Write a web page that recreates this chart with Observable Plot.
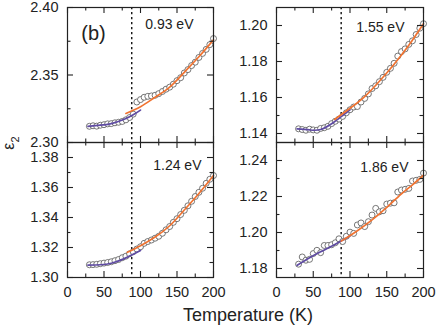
<!DOCTYPE html>
<html><head><meta charset="utf-8">
<script src="https://cdn.jsdelivr.net/npm/d3@7"></script>
<script src="https://cdn.jsdelivr.net/npm/@observablehq/plot@0.6"></script>
<style>
body{margin:0;background:#fff;}
#chart{position:relative;width:436px;height:328px;font-family:"Liberation Sans",Arial,Helvetica,sans-serif;color:#222;}
.panel{position:absolute;}
.panel svg{overflow:visible;}
.lbl{position:absolute;white-space:nowrap;line-height:1;}
</style></head><body><div id="chart"></div>
<script>
// ---------- data ----------
const temps = [30,35,40,45,50,55,60,65,70,75,80,85,90,95,100,105,110,115,120,125,130,135,140,145,150,155,160,165,170,175,180,185,190,195,200];
const eps093 = [2.3120,2.3124,2.3121,2.3128,2.3132,2.3138,2.3140,2.3146,2.3150,2.3156,2.3168,2.3185,2.3210,2.3300,2.3318,2.3335,2.3342,2.3345,2.3350,2.3362,2.3378,2.3395,2.3410,2.3432,2.3458,2.3480,2.3515,2.3540,2.3570,2.3595,2.3630,2.3660,2.3690,2.3725,2.3770];
const eps155 = [1.1426,1.1422,1.1418,1.1424,1.1420,1.1418,1.1428,1.1432,1.1440,1.1455,1.1468,1.1480,1.1495,1.1515,1.1532,1.1547,1.1550,1.1575,1.1595,1.1620,1.1650,1.1665,1.1688,1.1712,1.1740,1.1762,1.1790,1.1830,1.1855,1.1870,1.1895,1.1915,1.1950,1.1985,1.2010];
const eps124 = [1.3085,1.3086,1.3088,1.3092,1.3096,1.3100,1.3105,1.3112,1.3120,1.3132,1.3142,1.3158,1.3172,1.3190,1.3205,1.3228,1.3240,1.3250,1.3262,1.3275,1.3295,1.3318,1.3340,1.3368,1.3392,1.3420,1.3448,1.3478,1.3508,1.3540,1.3568,1.3595,1.3628,1.3655,1.3680];
const eps186 = [1.1824,1.1864,1.1846,1.1851,1.1883,1.1901,1.1888,1.1928,1.1928,1.1932,1.1943,1.1965,1.1950,1.1979,1.2002,1.1995,1.2042,1.2053,1.2033,1.2060,1.2097,1.2134,1.2115,1.2121,1.2158,1.2163,1.2165,1.2225,1.2236,1.2240,1.2245,1.2286,1.2290,1.2295,1.2330];

// fit curves
const fitLowT = [28,45,60,77,90,100];
const fitLow093 = [2.3120,2.3128,2.3140,2.3170,2.3205,2.3240];
const fitLow155 = [1.1426,1.1420,1.1422,1.1460,1.1500,1.1532];
const fitLow124 = [1.3083,1.3085,1.3095,1.3124,1.3155,1.3180];
const fitLow186 = [1.1818,1.1860,1.1893,1.1928,1.1957,1.1980];
const fitHighT093 = [80,100,120,140,160,180,200];
const fitHigh093 = [2.3215,2.3265,2.3335,2.3410,2.3520,2.3635,2.3760];
const fitHighT155 = [79,100,120,140,160,180,200];
const fitHigh155 = [1.1478,1.1540,1.1605,1.1690,1.1785,1.1890,1.2010];
const fitHighT124 = [82,100,120,140,160,180,200];
const fitHigh124 = [1.3168,1.3212,1.3270,1.3345,1.3450,1.3560,1.3680];
const fitHighT186 = [88,110,130,150,170,185,200];
const fitHigh186 = [1.1952,1.2010,1.2070,1.2140,1.2215,1.2265,1.2318];

const transitionT = [88];
const energyLabels = ["0.93 eV","1.55 eV","1.24 eV","1.86 eV"];
const xMajor = [0,50,100,150,200];
const xMinor = [25,75,125,175];
const yMajor093 = [2.30,2.35,2.40], yMinor093 = [2.325,2.375];
const yMajor155 = [1.14,1.16,1.18,1.20], yMinor155 = [1.15,1.17,1.19];
const yMajor124 = [1.30,1.32,1.34,1.36,1.38], yMinor124 = [1.31,1.33,1.35,1.37];
const yMajor186 = [1.18,1.20,1.22,1.24], yMinor186 = [1.19,1.21,1.23];

// ---------- drawing ----------
const ORANGE = "#f07331", PURPLE = "#5f4ba3", INK = "#222";
const zip = (xs, ys) => xs.map((T, i) => ({T, v: ys[i]}));

const panels = [
  {left:0,   top:0,   W:218, H:150, ml:67, mr:5,  mt:7, mb:8,  yd:[2.30,2.40], vals:eps093, lowV:fitLow093, hiT:fitHighT093, hiV:fitHigh093, yMaj:yMajor093, yMin:yMinor093, label:energyLabels[0], ldx:-20, ldy:17, bottom:false, tag:true},
  {left:218, top:0,   W:218, H:150, ml:58, mr:13, mt:7, mb:8,  yd:[1.135,1.21], vals:eps155, lowV:fitLow155, hiT:fitHighT155, hiV:fitHigh155, yMaj:yMajor155, yMin:yMinor155, label:energyLabels[1], ldx:-19, ldy:20, bottom:false},
  {left:0,   top:134, W:218, H:171, ml:67, mr:5,  mt:8, mb:28, yd:[1.30,1.39], vals:eps124, lowV:fitLow124, hiT:fitHighT124, hiV:fitHigh124, yMaj:yMajor124, yMin:yMinor124, label:energyLabels[2], ldx:-12, ldy:23, bottom:true},
  {left:218, top:134, W:218, H:171, ml:58, mr:13, mt:8, mb:28, yd:[1.175,1.25], vals:eps186, lowV:fitLow186, hiT:fitHighT186, hiV:fitHigh186, yMaj:yMajor186, yMin:yMinor186, label:energyLabels[3], ldx:-15, ldy:25, bottom:true}
];

const chart = document.getElementById("chart");
const fmt2 = d3.format(".2f");

for (const p of panels) {
  const innerW = p.W - p.ml - p.mr, innerH = p.H - p.mt - p.mb;
  const marks = [
    Plot.ruleX(transitionT, {x: d => d, stroke: "#111", strokeWidth: 1.4, strokeDasharray: "2.2,2.8"}),
    Plot.dot(zip(temps, p.vals), {x: "T", y: "v", r: 3, stroke: "#555", fill: "white", strokeWidth: 0.8}),
    Plot.line(zip(fitLowT, p.lowV), {x: "T", y: "v", stroke: PURPLE, strokeWidth: 1.7, curve: "natural"}),
    Plot.line(zip(p.hiT, p.hiV), {x: "T", y: "v", stroke: ORANGE, strokeWidth: 1.7, curve: "natural"}),
    Plot.frame({stroke: INK, strokeWidth: 1.2}),
    Plot.tickX(xMajor, {x: d => d, insetTop: innerH - 6, stroke: INK, strokeWidth: 1.1}),
    Plot.tickX(xMajor, {x: d => d, insetBottom: innerH - 6, stroke: INK, strokeWidth: 1.1}),
    Plot.tickX(xMinor, {x: d => d, insetTop: innerH - 3.5, stroke: INK, strokeWidth: 1.1}),
    Plot.tickX(xMinor, {x: d => d, insetBottom: innerH - 3.5, stroke: INK, strokeWidth: 1.1}),
    Plot.tickY(p.yMaj, {y: d => d, insetRight: innerW - 6, stroke: INK, strokeWidth: 1.1}),
    Plot.tickY(p.yMaj, {y: d => d, insetLeft: innerW - 6, stroke: INK, strokeWidth: 1.1}),
    Plot.tickY(p.yMin, {y: d => d, insetRight: innerW - 3.5, stroke: INK, strokeWidth: 1.1}),
    Plot.tickY(p.yMin, {y: d => d, insetLeft: innerW - 3.5, stroke: INK, strokeWidth: 1.1}),
    Plot.axisY(p.yMaj, {tickSize: 0, tickPadding: 9, tickFormat: fmt2, label: null, fontSize: 14.5}),
    Plot.text([p.label], {frameAnchor: "top-right", text: d => d, dx: p.ldx, dy: p.ldy, lineAnchor: "middle", textAnchor: "end", fontSize: 14, fill: INK})
  ];
  if (p.bottom) marks.push(Plot.axisX(xMajor, {tickSize: 0, tickPadding: 9, tickFormat: d => String(d), label: null, fontSize: 14.5}));
  if (p.tag) marks.push(Plot.text(["(b)"], {frameAnchor: "top-left", text: d => d, dx: 26, dy: 26, lineAnchor: "middle", textAnchor: "middle", fontSize: 20, fill: INK}));

  const svg = Plot.plot({
    width: p.W, height: p.H,
    marginLeft: p.ml, marginRight: p.mr, marginTop: p.mt, marginBottom: p.mb,
    x: {domain: [0, 200], axis: null, label: null},
    y: {domain: p.yd, axis: null, label: null},
    style: {background: "transparent", overflow: "visible", fontFamily: "'Liberation Sans', Arial, Helvetica, sans-serif", fontSize: "14px", color: INK},
    marks
  });
  const wrap = document.createElement("div");
  wrap.className = "panel";
  wrap.style.left = p.left + "px";
  wrap.style.top = p.top + "px";
  wrap.appendChild(svg);
  chart.appendChild(wrap);
}

const yl = document.createElement("div");
yl.className = "lbl";
yl.style.cssText = "left:11px;top:143px;transform:translate(-50%,-50%) rotate(-90deg);font-size:16px;";
yl.innerHTML = "ε<sub style='font-size:11px'>2</sub>";
chart.appendChild(yl);

const xl = document.createElement("div");
xl.className = "lbl";
xl.style.cssText = "left:248px;top:315px;transform:translate(-50%,-50%);font-size:18px;";
xl.textContent = "Temperature (K)";
chart.appendChild(xl);
</script>
</body></html>
